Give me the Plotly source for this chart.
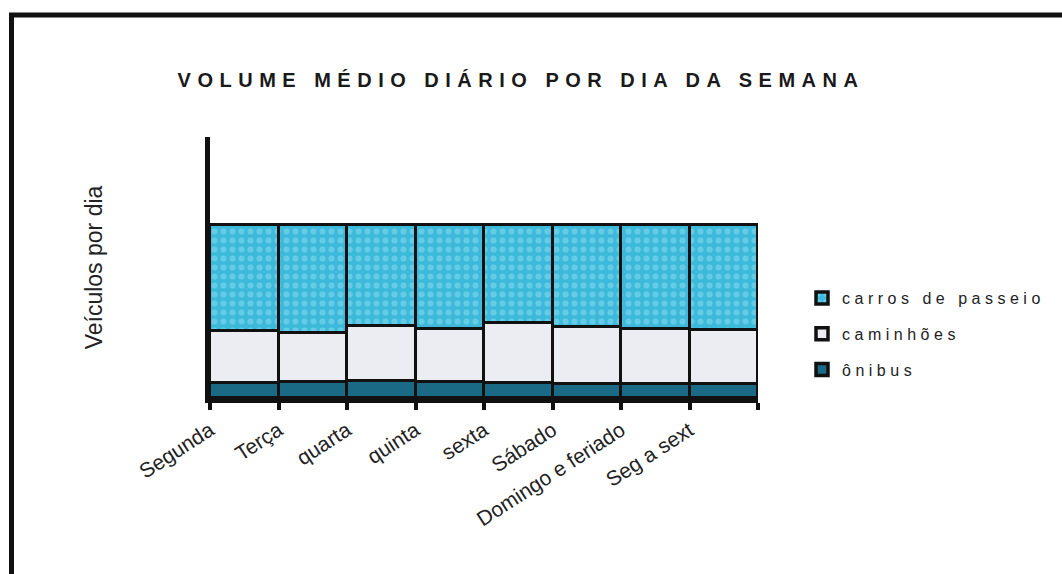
import plotly.graph_objects as go

categories = ["Segunda", "Terça", "quarta", "quinta", "sexta", "Sábado",
              "Domingo e feriado", "Seg a sext"]
onibus = [8.7, 9.2, 9.8, 9.2, 8.7, 8.1, 8.1, 8.1]
caminhoes = [30.0, 28.4, 31.8, 30.7, 34.7, 32.9, 31.8, 31.2]
carros = [61.3, 62.4, 58.4, 60.1, 56.6, 59.0, 60.1, 60.7]

positions = [i + 0.5 for i in range(len(categories))]
tick_positions = list(range(len(categories) + 1))
tick_text = categories + [""]

W, H = 1062, 574
L, R, T, B = 210, 304, 137, 176
pw, ph = W - L - R, H - T - B

def px_x(p):
    return (p - L) / pw

def px_y(p):
    return (H - B - p) / ph

line = dict(color="#111111", width=3.5)
fig = go.Figure()
fig.add_trace(go.Bar(x=positions, y=onibus, width=1, name="ônibus",
                     marker=dict(color="#1B6A85", line=line),
                     legendgroup="c", legendrank=3))
fig.add_trace(go.Bar(x=positions, y=caminhoes, width=1, name="caminhões",
                     marker=dict(color="#ECEDF2", line=line),
                     legendgroup="b", legendrank=2))
fig.add_trace(go.Bar(x=positions, y=carros, width=1, name="carros de passeio",
                     marker=dict(color="#4BC1DF", line=line,
                                 pattern=dict(shape=".", fgcolor="#8FDCEF", bgcolor="#3DBADB",
                                              size=9, solidity=0.35)),
                     legendgroup="a", legendrank=1))

fig.update_layout(
    width=W, height=H,
    barmode="stack", bargap=0,
    paper_bgcolor="white", plot_bgcolor="white",
    margin=dict(l=L, r=R, t=T, b=B, autoexpand=False),
    font=dict(family="Liberation Sans, Arial, sans-serif", color="#222222"),
    title=dict(text="VOLUME MÉDIO DIÁRIO POR DIA DA SEMANA",
               x=521 / W, xref="container", xanchor="center",
               y=1 - 80 / H, yref="container", yanchor="middle",
               font=dict(size=20, weight="bold", color="#1a1a1a")),
    xaxis=dict(range=[0, 8], tickmode="array", tickvals=tick_positions,
               ticktext=tick_text, tickangle=-33, ticks="outside", ticklen=7,
               tickwidth=4, tickcolor="#111111", showline=True, linewidth=5,
               linecolor="#111111", showgrid=False, zeroline=False,
               tickfont=dict(size=21, color="#222222"), fixedrange=True),
    yaxis=dict(range=[0, 151], showticklabels=False, ticks="", showline=True,
               linewidth=5, linecolor="#111111", showgrid=False, zeroline=False,
               title=dict(text="Veículos por dia", font=dict(size=23, color="#222222"),
                          standoff=97)),
    legend=dict(x=px_x(802), xanchor="left", y=px_y(281), yanchor="top",
                traceorder="grouped", tracegroupgap=12,
                font=dict(size=16, color="#222222"), bgcolor="rgba(0,0,0,0)"),
    shapes=[
        dict(type="line", xref="paper", yref="paper",
             x0=px_x(11.5), x1=px_x(11.5), y0=px_y(13), y1=px_y(580),
             line=dict(color="#111111", width=5)),
        dict(type="line", xref="paper", yref="paper",
             x0=px_x(9), x1=px_x(1070), y0=px_y(15), y1=px_y(15),
             line=dict(color="#111111", width=5)),
    ],
)

post = """
var gd = document.getElementById('{plot_id}');
var st = document.createElement('style');
st.textContent = '.gtitle{letter-spacing:6.5px;} .legendtext{letter-spacing:4.5px;}';
document.head.appendChild(st);
function unclip(){
  gd.querySelectorAll('.legend [clip-path]').forEach(function(e){e.removeAttribute('clip-path');});
  gd.querySelectorAll('.legend').forEach(function(e){e.style.overflow='visible';});
}
unclip();
gd.on('plotly_afterplot', unclip);
"""
fig.write_html("out.html", post_script=post)
